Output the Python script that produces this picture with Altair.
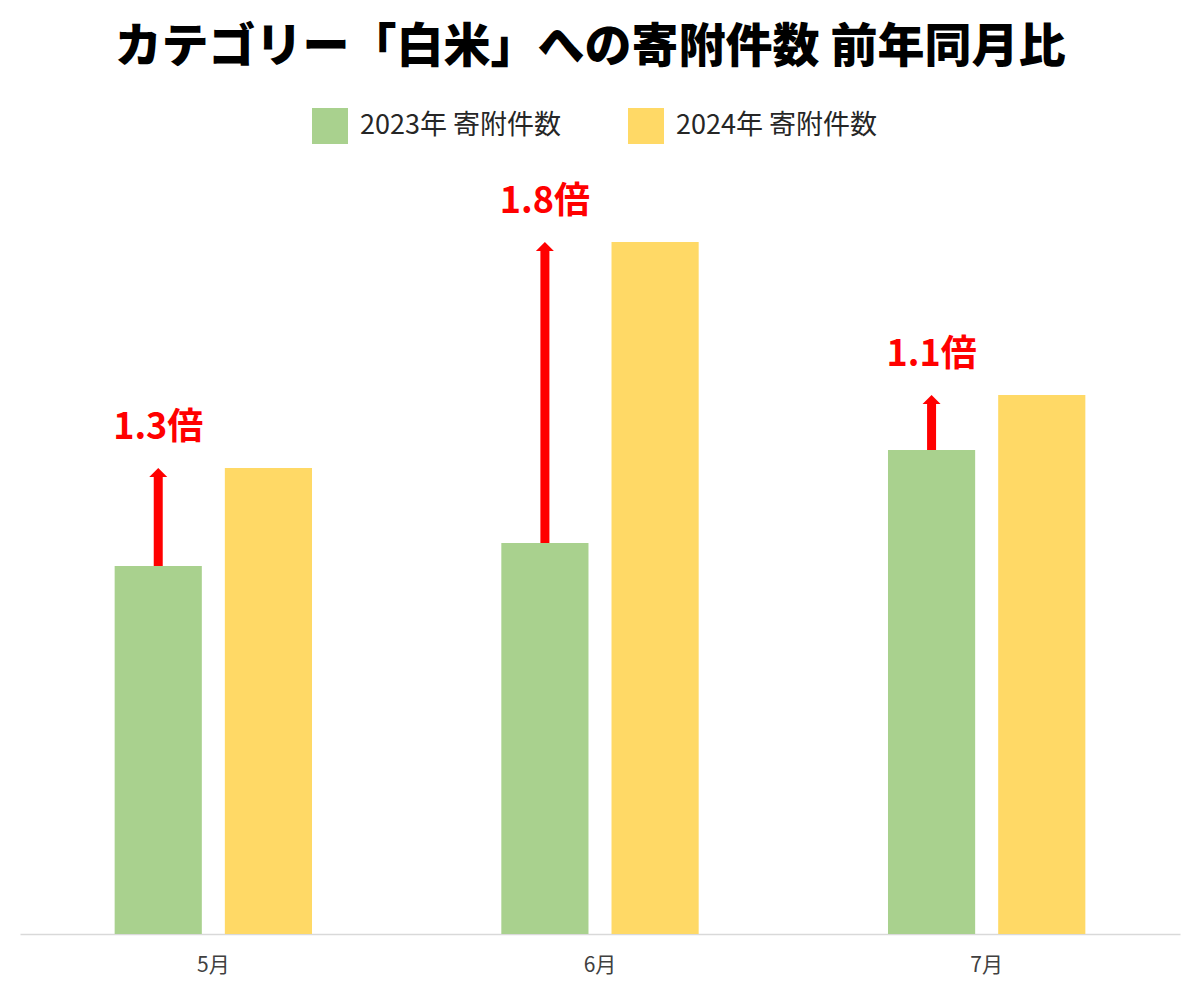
import altair as alt
import pandas as pd

months = ["5月", "6月", "7月"]
series = ["2023年 寄附件数", "2024年 寄附件数"]
v2023 = [368, 391, 484]
v2024 = [466, 692, 539]
colors = ["#A9D18E", "#FFD966"]
ratio_labels = [f"{b / a:.1f}倍" for a, b in zip(v2023, v2024)]

FONT = "Noto Sans CJK JP"

long_df = pd.DataFrame(
    {
        "month": months * 2,
        "series": [series[0]] * 3 + [series[1]] * 3,
        "value": v2023 + v2024,
    }
)
arrow_df = pd.DataFrame(
    {
        "month": months,
        "series": [series[0]] * 3,
        "v2023": v2023,
        "v2024": v2024,
        "label": ratio_labels,
    }
)

x_enc = alt.X(
    "month:N",
    sort=months,
    scale=alt.Scale(paddingInner=0, paddingOuter=0),
    axis=alt.Axis(
        title=None,
        labelAngle=0,
        ticks=False,
        domainColor="#d9d9d9",
        domainWidth=1.5,
        labelFont=FONT,
        labelFontSize=21,
        labelColor="#404040",
        labelPadding=20,
    ),
)
xo_enc = alt.XOffset(
    "series:N",
    sort=series,
    scale=alt.Scale(domain=series, paddingInner=0.209, paddingOuter=0.859),
)
y_scale = alt.Scale(domain=[0, 754])

bars = alt.Chart(long_df).mark_bar().encode(
    x=x_enc,
    xOffset=xo_enc,
    y=alt.Y("value:Q", scale=y_scale, axis=None),
    color=alt.Color(
        "series:N",
        scale=alt.Scale(domain=series, range=colors),
        legend=alt.Legend(
            title=None,
            orient="none",
            direction="horizontal",
            legendX=292,
            legendY=-72,
            symbolType="square",
            symbolSize=1296,
            symbolStrokeWidth=0,
            symbolOpacity=1,
            labelFont=FONT,
            labelFontSize=27,
            labelColor="#262626",
            labelOffset=12,
            columnPadding=67,
            labelLimit=400,
        ),
    ),
)

shaft = alt.Chart(arrow_df).mark_rule(
    color="#FF0000", strokeWidth=9, y2Offset=9
).encode(
    x=alt.X("month:N", sort=months),
    xOffset=alt.XOffset("series:N", sort=series),
    y=alt.Y("v2023:Q", scale=y_scale, axis=None),
    y2="v2024:Q",
)

head = alt.Chart(arrow_df).mark_point(
    shape="M-1,1 L1,1 L0,0 Z",
    filled=True,
    color="#FF0000",
    opacity=1,
    size=324,
    strokeWidth=0,
).encode(
    x=alt.X("month:N", sort=months),
    xOffset=alt.XOffset("series:N", sort=series),
    y=alt.Y("v2024:Q", scale=y_scale, axis=None),
)

labels = alt.Chart(arrow_df).mark_text(
    color="#FF0000",
    font=FONT,
    fontSize=36,
    fontWeight="bold",
    baseline="middle",
    align="center",
    dy=-40,
).encode(
    x=alt.X("month:N", sort=months),
    xOffset=alt.XOffset("series:N", sort=series),
    y=alt.Y("v2024:Q", scale=y_scale, axis=None),
    text="label:N",
)

chart = (
    alt.layer(bars, shaft, head, labels)
    .properties(
        width=1160,
        height=754,
        background="#ffffff",
        autosize=alt.AutoSizeParams(type="none"),
        padding={"left": 12, "top": 172, "right": 12, "bottom": 58},
        title=alt.TitleParams(
            text="カテゴリー「白米」への寄附件数 前年同月比",
            font=FONT,
            fontSize=47,
            fontWeight=900,
            color="#000000",
            anchor="middle",
            dx=-10,
            offset=36,
        ),
    )
    .configure_view(stroke=None, strokeWidth=0)
)

chart.save("out.html", embed_options={"renderer": "svg", "actions": False})
